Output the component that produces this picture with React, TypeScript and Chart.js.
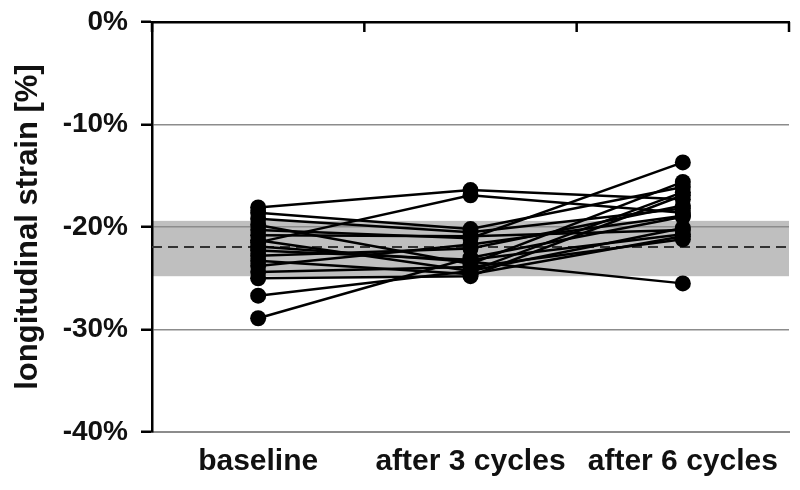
import { useEffect, useRef } from 'react';
import { Chart, registerables } from 'chart.js';

Chart.register(...registerables);

const CATEGORIES = ['baseline', 'after 3 cycles', 'after 6 cycles'];

// longitudinal strain [%] per patient
const BASELINE = [-18.1, -21.5, -18.6, -19.2, -19.8, -20.3, -20.8, -21.3, -21.9, -22.3, -22.8, -23.3, -23.8, -24.4, -25.0, -26.7, -28.9];
const AFTER_3 = [-16.4, -16.9, -20.2, -20.5, -23.6, -21.1, -20.9, -24.3, -23.4, -23.2, -22.1, -24.6, -21.7, -23.9, -24.8, -24.3, -23.0];
const AFTER_6 = [-17.3, -18.6, -16.1, -18.2, -15.6, -13.7, -20.3, -16.6, -25.5, -20.7, -17.9, -20.9, -18.9, -21.2, -16.9, -20.1, -19.0];

const Y_MIN = -40;
const Y_MAX = 0;
const Y_STEP = 10;

// reference range (mean ± SD) of normal strain
const BAND_UPPER = -19.4;
const BAND_LOWER = -24.8;
const REFERENCE_MEAN = -21.95;

const FONT = '"Liberation Sans", Arial, sans-serif';

const bandPlugin = {
  id: 'band',
  beforeDraw(chart: any) {
    const { ctx, chartArea } = chart;
    const y = chart.scales.y;
    const top = y.getPixelForValue(BAND_UPPER);
    const bottom = y.getPixelForValue(BAND_LOWER);
    ctx.save();
    ctx.fillStyle = '#bfbfbf';
    ctx.fillRect(chartArea.left, top, chartArea.right - chartArea.left, bottom - top);
    ctx.restore();
  },
  beforeDatasetsDraw(chart: any) {
    const { ctx, chartArea } = chart;
    const y = chart.scales.y;
    const m = y.getPixelForValue(REFERENCE_MEAN);
    ctx.save();
    ctx.strokeStyle = '#333';
    ctx.lineWidth = 2;
    ctx.setLineDash([10, 6]);
    ctx.beginPath();
    ctx.moveTo(chartArea.left, m);
    ctx.lineTo(chartArea.right, m);
    ctx.stroke();
    ctx.restore();
  },
  afterDraw(chart: any) {
    const { ctx, chartArea } = chart;
    const x2 = chart.scales.x2;
    ctx.save();
    ctx.strokeStyle = '#000';
    ctx.lineWidth = 2.5;
    for (let i = 0; i <= CATEGORIES.length; i++) {
      const px = x2.getPixelForValue(i - 0.5);
      ctx.beginPath();
      ctx.moveTo(px, chartArea.top);
      ctx.lineTo(px, chartArea.top + 10);
      ctx.stroke();
    }
    ctx.restore();
  },
};

export default function App() {
  const ref = useRef<HTMLCanvasElement | null>(null);

  useEffect(() => {
    document.body.style.margin = '0';
    const datasets = BASELINE.map((b, i) => ({
      label: 'patient ' + (i + 1),
      data: [b, AFTER_3[i], AFTER_6[i]],
      borderColor: '#000',
      backgroundColor: '#000',
      borderWidth: 2.5,
      pointRadius: 8,
      pointBackgroundColor: '#000',
      pointBorderColor: '#000',
      pointBorderWidth: 0,
      tension: 0,
      xAxisID: 'x',
      yAxisID: 'y',
    }));

    const chart = new Chart(ref.current as HTMLCanvasElement, {
      type: 'line',
      data: { labels: CATEGORIES, datasets },
      plugins: [bandPlugin],
      options: {
        animation: false,
        responsive: false,
        layout: { padding: { left: 0, right: 11, top: 0, bottom: 0 } },
        plugins: { legend: { display: false }, tooltip: { enabled: false } },
        scales: {
          x: {
            type: 'category',
            position: 'bottom',
            offset: true,
            grid: { display: false, drawTicks: false },
            border: { display: true, color: '#8c8c8c', width: 2 },
            ticks: {
              color: '#111',
              font: { family: FONT, size: 30, weight: 'bold' },
              padding: 12,
              autoSkip: false,
              maxRotation: 0,
            },
            afterFit(scale: any) {
              scale.height = 58;
            },
          },
          x2: {
            type: 'category',
            position: 'top',
            labels: CATEGORIES,
            offset: true,
            grid: { display: false, drawTicks: false },
            border: { display: true, color: '#000', width: 2.5 },
            ticks: { display: false },
            afterFit(scale: any) {
              scale.height = 22;
              scale.paddingLeft = 0;
              scale.paddingRight = 0;
            },
          },
          y: {
            type: 'linear',
            min: Y_MIN,
            max: Y_MAX,
            grid: {
              color: (c: any) => (c.tick && c.tick.value === 0 ? 'rgba(0,0,0,0)' : '#8c8c8c'),
              lineWidth: 1.5,
              tickColor: '#000',
              tickLength: 11,
              tickWidth: 2.5,
            },
            border: { display: true, color: '#000', width: 2.5 },
            ticks: {
              stepSize: Y_STEP,
              color: '#111',
              padding: 13,
              font: { family: FONT, size: 28, weight: 'bold' },
              callback: (v: any) => v + '%',
            },
            title: {
              display: true,
              text: 'longitudinal strain [%]',
              color: '#111',
              font: { family: FONT, size: 31, weight: 'bold' },
              padding: { top: 10, bottom: 0 },
            },
            afterFit(scale: any) {
              scale.width = 152;
              scale.paddingTop = 0;
              scale.paddingBottom = 0;
            },
          },
        },
      },
    } as any);
    return () => chart.destroy();
  }, []);

  return (
    <div style={{ position: 'fixed', left: 0, top: 0, width: 800, height: 490, background: '#fff' }}>
      <canvas ref={ref} width={800} height={490} style={{ width: 800, height: 490 }} />
    </div>
  );
}
